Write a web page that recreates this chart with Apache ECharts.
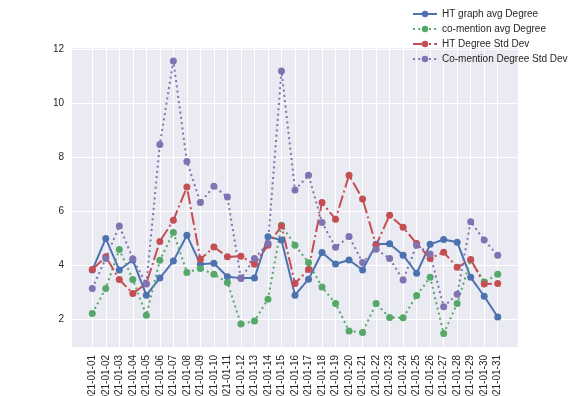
<!DOCTYPE html>
<html>
<head>
<meta charset="utf-8">
<script src="https://cdn.jsdelivr.net/npm/echarts@6/dist/echarts.min.js"></script>
<style>
  html, body { margin: 0; padding: 0; background: #fff; }
  #degree_chart { width: 576px; height: 396px; }
</style>
</head>
<body>
<div id="degree_chart"></div>
<script>
// 日期
var dates = [
  '2021-01-01', '2021-01-02', '2021-01-03', '2021-01-04', '2021-01-05', '2021-01-06',
  '2021-01-07', '2021-01-08', '2021-01-09', '2021-01-10', '2021-01-11', '2021-01-12',
  '2021-01-13', '2021-01-14', '2021-01-15', '2021-01-16', '2021-01-17', '2021-01-18',
  '2021-01-19', '2021-01-20', '2021-01-21', '2021-01-22', '2021-01-23', '2021-01-24',
  '2021-01-25', '2021-01-26', '2021-01-27', '2021-01-28', '2021-01-29', '2021-01-30',
  '2021-01-31'
];

var htAvg = [3.83, 5.0, 3.83, 4.2, 2.9, 3.53, 4.16, 5.12, 4.04, 4.08, 3.58,
  3.53, 3.53, 5.06, 4.94, 2.9, 3.49, 4.48, 4.05, 4.2, 3.83, 4.78, 4.8,
  4.38, 3.71, 4.78, 4.96, 4.86, 3.56, 2.86, 2.09];

var coAvg = [2.22, 3.15, 4.59, 3.48, 2.16, 4.19, 5.22, 3.74, 3.89, 3.67, 3.37,
  1.83, 1.94, 2.75, 5.49, 4.75, 4.11, 3.2, 2.59, 1.57, 1.52, 2.59, 2.07,
  2.06, 2.89, 3.56, 1.48, 2.59, 4.2, 3.39, 3.67];

var htStd = [3.85, 4.32, 3.48, 2.96, 3.33, 4.89, 5.67, 6.9, 4.23, 4.68, 4.32,
  4.34, 4.04, 4.75, 5.46, 3.33, 3.85, 6.33, 5.71, 7.34, 6.46, 4.75, 5.86,
  5.41, 4.81, 4.26, 4.49, 3.93, 4.22, 3.31, 3.33];

var coStd = [3.15, 4.26, 5.46, 4.25, 3.31, 8.48, 11.57, 7.85, 6.33, 6.93, 6.53,
  3.52, 4.26, 4.81, 11.2, 6.79, 7.34, 5.59, 4.67, 5.07, 4.11, 4.6, 4.26,
  3.46, 4.75, 4.42, 2.47, 2.93, 5.62, 4.94, 4.38];

var yTicks = [2, 4, 6, 8, 10, 12];

var seriesNames = ['HT graph avg Degree', 'co-mention avg Degree', 'HT Degree Std Dev', 'Co-mention Degree Std Dev'];

function toPoints(values) {
  return values.map(function (v, i) { return [i, v]; });
}

function makeSeries(name, values, color, dash) {
  return {
    name: name,
    type: 'line',
    symbol: 'circle',
    symbolSize: 7,
    showSymbol: true,
    itemStyle: { color: color },
    lineStyle: { color: color, width: 2, type: dash },
    emphasis: { disabled: true },
    data: toPoints(values)
  };
}

// 获取图表option
function getChartOption() {
  var xIdx = dates.map(function (d, i) { return i; });
  var font = 'Liberation Sans, Arial, sans-serif';
  return {
    animation: false,
    textStyle: { fontFamily: font },
    legend: {
      orient: 'vertical',
      left: 412,
      top: 8,
      padding: 0,
      itemWidth: 24,
      itemHeight: 8,
      itemGap: 3,
      textStyle: { color: '#262626', fontSize: 10, lineHeight: 12, fontFamily: font },
      data: seriesNames
    },
    grid: {
      left: 72,
      right: 58,
      top: 48,
      bottom: 49,
      containLabel: false,
      outerBoundsMode: 'none',
      show: true,
      backgroundColor: '#eaeaf2',
      borderWidth: 0
    },
    xAxis: {
      type: 'value',
      min: -1.5,
      max: 31.5,
      axisLine: { show: false },
      axisTick: { show: false, customValues: xIdx },
      axisLabel: {
        customValues: xIdx,
        rotate: 90,
        margin: 8,
        color: '#262626',
        fontSize: 10,
        fontFamily: font,
        formatter: function (v) { return dates[Math.round(v)]; }
      },
      splitLine: { show: true, lineStyle: { color: '#ffffff', width: 1 } }
    },
    yAxis: {
      type: 'value',
      min: 0.98,
      max: 12.05,
      axisLine: { show: false },
      axisTick: { show: false, customValues: yTicks },
      axisLabel: {
        customValues: yTicks,
        margin: 8,
        color: '#262626',
        fontSize: 10,
        fontFamily: font
      },
      splitLine: { show: true, lineStyle: { color: '#ffffff', width: 1 } }
    },
    series: [
      makeSeries(seriesNames[0], htAvg, '#4c72b0', 'solid'),
      makeSeries(seriesNames[1], coAvg, '#55a868', [2, 3.3]),
      makeSeries(seriesNames[2], htStd, '#c44e52', [12.8, 3.2, 2, 3.2]),
      makeSeries(seriesNames[3], coStd, '#8172b2', [2, 3.3])
    ]
  };
}

// 画图
var myChart = echarts.init(document.getElementById('degree_chart'));
myChart.setOption(getChartOption());
</script>
</body>
</html>
